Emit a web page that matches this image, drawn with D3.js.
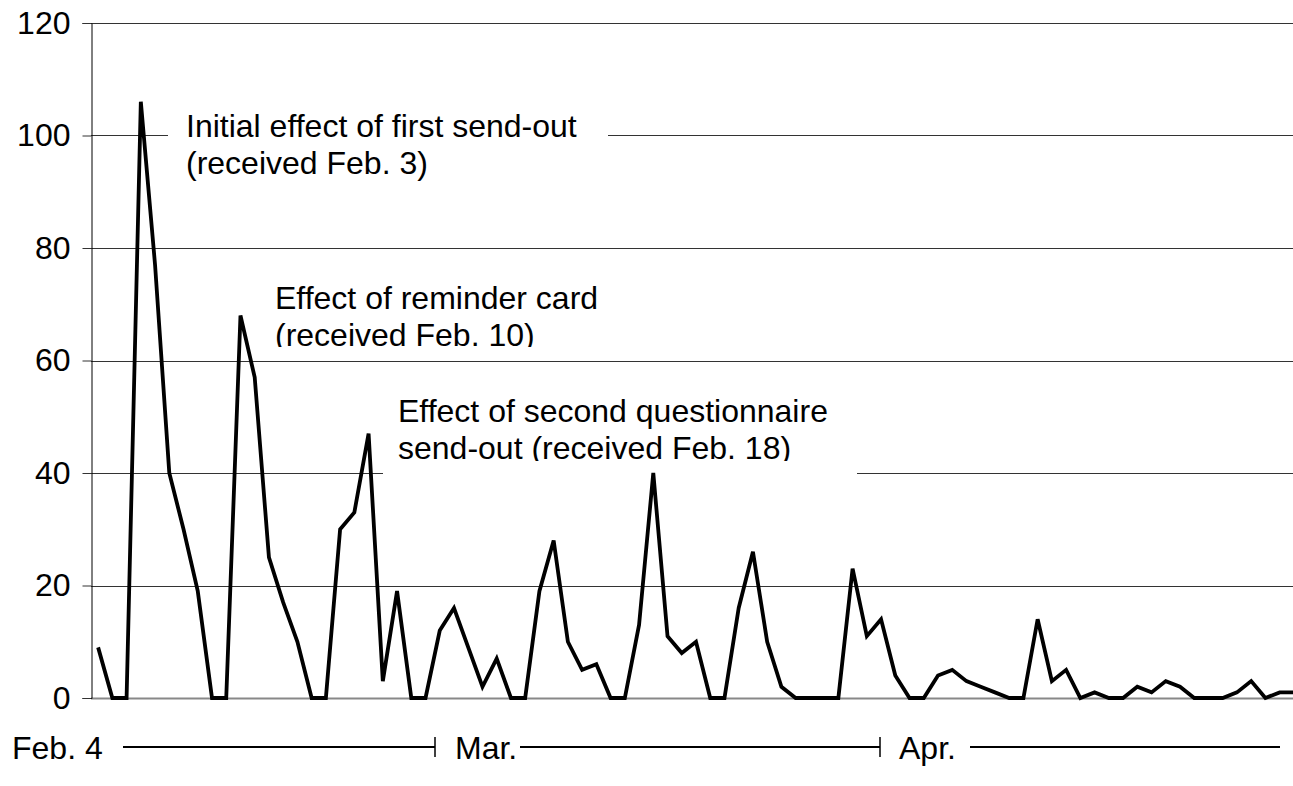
<!DOCTYPE html>
<html>
<head>
<meta charset="utf-8">
<script src="https://cdn.jsdelivr.net/npm/d3@7"></script>
<style>
  html, body { margin: 0; padding: 0; background: #fff; }
  svg { display: block; font-family: "Liberation Sans", Arial, sans-serif; }
</style>
</head>
<body>
<svg id="chart" width="1293" height="786"></svg>
<script>
// Daily number of returned questionnaires, Feb. 4 through Apr. 29
const dayCounts = [
  9, 0, 0, 106, 77, 40, 30, 19, 0, 0,
  68, 57, 25, 17, 10, 0, 0, 30, 33, 47,
  3, 19, 0, 0, 12, 16, 9, 2, 7, 0,
  0, 19, 28, 10, 5, 6, 0, 0, 13, 40,
  11, 8, 10, 0, 0, 16, 26, 10, 2, 0,
  0, 0, 0, 23, 11, 14, 4, 0, 0, 4,
  5, 3, 2, 1, 0, 0, 14, 3, 5, 0,
  1, 0, 0, 2, 1, 3, 2, 0, 0, 0,
  1, 3, 0, 1, 1
];
const firstDay = new Date(2001, 1, 4);
const days = d3.timeDay.range(firstDay, d3.timeDay.offset(firstDay, dayCounts.length));

const yTicks = [0, 20, 40, 60, 80, 100, 120];
const monthLabels = ["Feb. 4", "Mar.", "Apr."];
const notes = [
  ["Initial effect of first send-out", "(received Feb. 3)"],
  ["Effect of reminder card", "(received Feb. 10)"],
  ["Effect of second questionnaire", "send-out (received Feb. 18)"]
];

const svg = d3.select("#chart");
const plot = { left: 91, right: 1301, top: 23, bottom: 698 };

const x = d3.scalePoint()
  .domain(days.map(d => +d))
  .range([plot.left, plot.right])
  .padding(0.5);

const y = d3.scaleLinear().domain([0, 120]).range([plot.bottom, plot.top]);

// horizontal gridlines
svg.append("g")
  .selectAll("line")
  .data(yTicks.filter(t => t > 0))
  .join("line")
  .attr("x1", plot.left).attr("x2", plot.right)
  .attr("y1", d => Math.round(y(d)) + 0.5).attr("y2", d => Math.round(y(d)) + 0.5)
  .attr("stroke", "#333").attr("stroke-width", 1);

// baseline
svg.append("line")
  .attr("x1", plot.left).attr("x2", plot.right)
  .attr("y1", y(0) + 0.5).attr("y2", y(0) + 0.5)
  .attr("stroke", "#888").attr("stroke-width", 2);

// value axis
const yAxis = d3.axisLeft(y).tickValues(yTicks).tickSize(9).tickPadding(12);
const ga = svg.append("g")
  .attr("transform", `translate(${plot.left + 0.5},0)`)
  .call(yAxis);
ga.select(".domain").attr("stroke", "#000").attr("stroke-width", 1);
ga.selectAll(".tick line").attr("stroke", "#333");
ga.selectAll(".tick text")
  .attr("font-size", 32)
  .attr("font-family", "'Liberation Sans', Arial, sans-serif")
  .attr("fill", "#000");

// annotation boxes
const noteBoxes = [
  { x: 168, y: 98, w: 440, h: 82, clip: null, tx: 186, ty: 137 },
  { x: 270, y: 268, w: 330, h: 79, clip: 347, tx: 275, ty: 309 },
  { x: 383, y: 382, w: 474, h: 96, clip: 461, tx: 398, ty: 422 }
];
const lineGap = 36.5;
noteBoxes.forEach((b, i) => {
  const g = svg.append("g");
  g.append("rect")
    .attr("x", b.x).attr("y", b.y).attr("width", b.w).attr("height", b.h)
    .attr("fill", "#fff");
  const cid = "noteclip" + i;
  if (b.clip !== null) {
    svg.append("clipPath").attr("id", cid)
      .append("rect").attr("x", b.x).attr("y", b.y)
      .attr("width", b.w).attr("height", b.clip - b.y);
  }
  const t = g.append("text")
    .attr("font-size", 32)
    .attr("fill", "#000");
  if (b.clip !== null) t.attr("clip-path", `url(#${cid})`);
  notes[i].forEach((line, k) => {
    t.append("tspan").attr("x", b.tx).attr("y", b.ty + k * lineGap).text(line);
  });
});

// daily returns line
svg.append("path")
  .datum(dayCounts)
  .attr("fill", "none")
  .attr("stroke", "#000")
  .attr("stroke-width", 3.8)
  .attr("stroke-linejoin", "miter")
  .attr("d", d3.line()
    .x((d, i) => x(+days[i]))
    .y(d => y(d)));

// month timeline under the chart
const tlY = 747;
const tl = svg.append("g").attr("font-size", 32).attr("fill", "#000");
const tlText = [
  { label: monthLabels[0], x: 12 },
  { label: monthLabels[1], x: 455 },
  { label: monthLabels[2], x: 899 }
];
tlText.forEach(d => {
  tl.append("text").attr("x", d.x).attr("y", tlY + 12).text(d.label);
});
const tlLines = [[123, 435], [520, 880], [970, 1280]];
tlLines.forEach(([a, b]) => {
  tl.append("line").attr("x1", a).attr("x2", b).attr("y1", tlY).attr("y2", tlY)
    .attr("stroke", "#000").attr("stroke-width", 2);
});
[435, 880].forEach(px => {
  tl.append("line").attr("x1", px).attr("x2", px).attr("y1", tlY - 10).attr("y2", tlY + 10)
    .attr("stroke", "#000").attr("stroke-width", 1.5);
});
</script>
</body>
</html>
